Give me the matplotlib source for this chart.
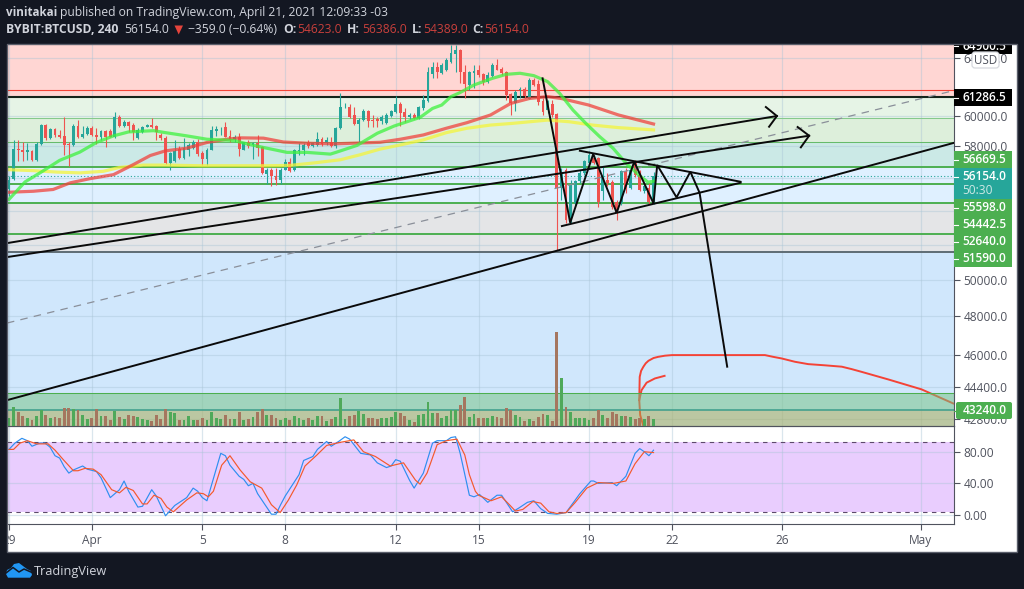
#btcusd 4h chart with hand drawn channels and stoch rsi pane

import matplotlib
matplotlib.use('Agg')
import matplotlib.pyplot as plt
from matplotlib.patches import Rectangle, FancyBboxPatch, Polygon
from matplotlib.ticker import NullLocator

plt.rcParams['font.family'] = ['Open Sans', 'DejaVu Sans']

W, H = 1024, 589

opens = [55330, 55940, 57850, 57745, 57620, 57680, 57110, 58170, 59400, 58540,
         59120, 58750, 58690, 58170, 58070, 59340, 58600, 58820, 59230, 58750,
         58600, 59030, 59030, 58640, 59950, 59340, 59620, 59400, 58540, 58970,
         59300, 59400, 59340, 58750, 58540, 56940, 57050, 57830, 57260, 57790,
         57890, 58320, 57570, 57190, 57790, 59030, 59120, 59300, 58690, 58470,
         58640, 57790, 58320, 58110, 58210, 57940, 56250, 56520, 56110, 55900,
         56520, 56980, 56480, 57680, 57790, 58210, 58040, 58110, 58470, 58210,
         58320, 58000, 59190, 60590, 60590, 60070, 59470, 59730, 60340, 59730,
         59780, 59690, 59560, 60000, 60290, 60810, 60290, 59910, 60070, 59840,
         60510, 61030, 62880, 63360, 62940, 63150, 63700, 64300, 64580, 63010,
         62100, 62940, 63150, 62870, 62340, 62730, 63480, 63240, 63010, 61500,
         60860, 61730, 61850, 61180, 62450, 62180, 61030, 60400, 60810, 60130,
         55390, 56520, 53440, 54440, 55800, 56320, 56940, 57260, 57260, 55180,
         55900, 55740, 54540, 54440, 56420, 55390, 57050, 56210, 55180, 55390,
         54623]
highs = [56107, 58428, 58428, 58320, 58214, 57787, 58320, 59470, 59470, 59190,
         59230, 59080, 59910, 58320, 59470, 59730, 59340, 59340, 59340, 59190,
         59080, 59080, 59120, 60290, 60070, 59730, 59690, 59560, 59190, 59340,
         59470, 59840, 59400, 58860, 58690, 57620, 58430, 58000, 58540, 58210,
         58430, 58470, 57680, 57890, 59340, 59340, 59300, 59600, 59080, 58750,
         58860, 58320, 58430, 58320, 58750, 58000, 56630, 56630, 56630, 56630,
         57190, 57260, 57830, 58210, 58210, 58430, 58320, 58970, 58600, 58600,
         58640, 59300, 61540, 60850, 60810, 60630, 59840, 60450, 60400, 60070,
         59950, 60070, 60180, 60400, 61330, 60970, 60510, 60180, 60180, 60670,
         61420, 63400, 63740, 63690, 63630, 63980, 64940, 64940, 64650, 63480,
         63080, 63480, 63480, 62970, 63010, 63630, 63910, 63360, 63080, 61540,
         61730, 61970, 61990, 62570, 62570, 62450, 61190, 61080, 61080, 60220,
         56630, 56630, 55900, 55900, 56520, 57150, 57680, 57470, 57320, 56730,
         56320, 55900, 54640, 56520, 56630, 56630, 57150, 56520, 55590, 55690,
         56386]
lows = [54880, 55900, 57045, 57045, 57150, 57045, 57045, 58100, 58430, 58470,
        58640, 58540, 57470, 56770, 58000, 58540, 58540, 58750, 58690, 58170,
        58430, 57950, 58600, 58540, 59300, 59300, 58970, 58430, 58470, 58900,
        59250, 59190, 58430, 58430, 56900, 56480, 56980, 57190, 57190, 57360,
        57830, 57360, 56830, 56830, 57745, 58690, 58750, 58600, 58260, 58320,
        57360, 57745, 57890, 57190, 57360, 56270, 55640, 55530, 55590, 55640,
        56480, 56360, 56420, 57470, 57470, 57890, 57950, 58000, 58040, 58110,
        57950, 57890, 59120, 60510, 59840, 59400, 58320, 59690, 59300, 59300,
        59300, 59470, 59470, 59950, 60220, 59340, 59620, 59780, 59780, 59780,
        60400, 60970, 62570, 62570, 62880, 63100, 63630, 63010, 62230, 61190,
        61760, 61880, 62690, 62100, 62270, 62690, 63150, 62810, 61080, 60070,
        60360, 61190, 61240, 61120, 62040, 60740, 60070, 60180, 59950, 51670,
        54640, 53250, 53250, 54340, 55690, 56210, 56830, 56900, 54240, 54640,
        55490, 54080, 53450, 54340, 55080, 55290, 56060, 55180, 55080, 54390,
        54389]
closes = [55900, 57850, 57745, 57660, 57745, 57110, 58170, 59400, 58540, 59120,
          58730, 58640, 58110, 58070, 59340, 58600, 58820, 59230, 58750, 58600,
          59030, 58640, 58640, 59950, 59340, 59620, 59340, 58950, 59080, 59300,
          59400, 59300, 58970, 58540, 56940, 57580, 57680, 57260, 57890, 58110,
          58320, 57530, 57190, 57790, 59080, 59120, 59165, 58640, 58390, 58600,
          57830, 58260, 58000, 58210, 57890, 56320, 56520, 56110, 55900, 56520,
          56980, 56420, 57790, 57790, 58110, 58000, 58210, 58470, 58170, 58430,
          58040, 59190, 60630, 60630, 59910, 59470, 59730, 60360, 59690, 59670,
          59690, 59950, 60070, 60310, 60810, 60180, 59910, 60070, 59840, 60630,
          61080, 62990, 63360, 63010, 63480, 63890, 64350, 64580, 63010, 62150,
          63010, 63080, 62800, 62340, 62800, 63480, 63170, 62930, 61440, 60860,
          61660, 61850, 61350, 62450, 62110, 60970, 60290, 60970, 60070, 55390,
          56320, 53440, 55590, 55800, 56320, 57050, 57470, 56940, 54540, 56110,
          55700, 54240, 53840, 56420, 55290, 56520, 56210, 55240, 55490, 54540,
          56154]
# volume read as bar height, arbitrary units
volumes = [25, 56, 41, 30, 23, 18, 30, 48, 33, 23, 26, 23, 53, 53, 50, 48, 33, 21, 24, 50,
           30, 30, 18, 45, 26, 21, 33, 31, 28, 20, 18, 16, 33, 20, 51, 41, 40, 18, 18, 30,
           18, 18, 23, 18, 42, 25, 21, 33, 20, 21, 42, 18, 21, 28, 42, 51, 33, 33, 23, 18,
           23, 18, 30, 23, 18, 23, 18, 30, 30, 16, 21, 28, 84, 22, 30, 33, 46, 36, 24, 24,
           21, 25, 23, 26, 42, 38, 30, 18, 13, 33, 36, 72, 40, 38, 25, 30, 48, 48, 63, 86,
           27, 36, 25, 25, 25, 30, 27, 25, 53, 48, 33, 26, 15, 21, 15, 27, 35, 33, 15, 282,
           144, 57, 41, 25, 25, 25, 18, 25, 48, 33, 25, 43, 35, 30, 30, 26, 21, 25, 21, 30,
           21]

ma_green_x = [0, 3.5, 7, 11, 15.4, 19, 22.7, 26, 31.4, 34, 38.6, 43, 48.8, 51.7, 56, 60.4, 64.7, 69.8,
              71, 75.6, 80, 83.7, 89.3, 92, 94, 96, 98, 101, 105, 108, 111, 114, 117, 119.6,
              122.5, 125.3, 128.3, 131.2, 134, 136.7, 138.8, 140]
ma_green_y = [54684, 55760, 56370, 57110, 57640, 58260, 58690, 58950, 59030, 58900, 58690, 58470, 58390, 58170,
              57890, 57620, 57620, 57510, 57620, 58070, 58860, 59340, 59910, 60510, 60740, 61310, 61590, 62110,
              62570, 62850, 62925, 62760, 62340, 61540, 60400, 59510, 58640, 57890, 56940, 56210, 55740, 55800]
ma_red_x = [0, 5.3, 9.6, 13.3, 17.6, 22.7, 27, 30.7, 34, 38.6, 43, 47.3, 50.2, 55.3, 59.6, 64.7, 70.5, 80.6,
            85, 90, 95, 99.5, 104.6, 109, 113, 117, 120, 125.9, 132.4, 140]
ma_red_y = [55120, 55180, 55290, 55700, 55960, 56210, 56840, 57420, 57720, 57890, 58260, 58470, 58560, 58540,
            58290, 58210, 58170, 58270, 58470, 58750, 59190, 59560, 60070, 60850, 61180, 61310, 61180, 60740,
            60070, 59470]
ma_yellow_x = [0, 5.3, 10.4, 15.4, 20.5, 24, 29.2, 34, 41.5, 48.8, 56, 61, 66, 72, 76.3, 80.6, 85, 90, 95,
               99.5, 104.6, 109.3, 117, 121.7, 126.7, 132.4, 140]
ma_yellow_y = [56520, 56460, 56370, 56320, 56420, 56660, 56810, 56810, 56770, 56770, 56770, 56790, 56940, 57150,
               57470, 57830, 58100, 58430, 58900, 59190, 59400, 59510, 59730, 59620, 59400, 59230, 59080]

stoch_k_x = [0, 1.3, 2.8, 4, 5, 6.7, 7.8, 8.9, 10, 11, 12, 13, 14, 16, 17, 19, 20, 22, 23, 24, 25, 26, 28, 29,
             31, 32, 34, 36, 38.6, 40, 41, 42, 43, 46, 47, 48, 50, 51, 52, 53, 54, 57, 58, 59, 60, 62, 63, 64,
             66, 67, 69, 70, 71.6, 73, 74, 76.4, 78.5, 80, 82, 83, 84, 85, 87, 88, 90, 92, 93, 95, 96, 97, 98,
             100, 101, 102.2, 104, 106, 107, 109.4, 110.8, 112.6, 114, 115.5, 117, 119, 121, 122.5, 124, 126.4,
             127, 128, 131, 132, 134, 136, 137, 138, 139, 140]
stoch_k_y = [83, 91, 97, 94, 87, 91, 91, 86, 75, 72, 61, 53, 57, 62, 58, 55, 47, 22, 27, 32, 43, 30, 10, 11,
             32, 24, -1, 12, 22, 34, 30, 22, 18, 78, 75, 63, 49, 45, 37, 40, 27, 1, 1, 13, 24, 42, 51, 69,
             74, 83, 93, 87, 93, 99, 96, 78, 76, 66, 60, 62, 70, 68, 44, 34, 53, 91, 94, 94, 98, 99, 78,
             25, 23, 26, 16, 25, 25, 4, 9, 16, 18, 8, 2, 1, 3, 15, 27, 43,
             43, 40, 41, 37, 49, 78, 84, 80, 75, 82]
stoch_d_x = [0, 1, 2.4, 4, 6, 8.5, 10, 11.8, 14, 15, 16.5, 18.3, 20, 22.3, 24, 25.4, 27, 29, 30, 31.5, 33, 34.3,
             35.7, 38.6, 40.8, 42.2, 43.3, 44.4, 46.2, 48, 50.2, 52.4, 54.9, 57, 58.9, 60.7, 62.5, 64.3, 66.9,
             69, 72, 74.9, 77, 79.6, 82.8, 85.7, 88.3, 89.3, 90.8, 93, 95, 97.3, 99, 100, 101.3, 102, 104.7,
             107, 108.7, 110, 111.6, 113.8, 115.5, 117.3, 119, 121, 123, 125.5, 128, 131.3, 134, 136, 138, 140]
stoch_d_y = [83, 83, 91, 94, 90, 90, 82, 70, 56, 56, 59, 58, 51, 32, 28, 35, 31, 14, 14, 25, 21, 10,
             4, 19, 28, 27, 23, 30, 63, 75, 57, 42, 34, 13, 3, 19, 38, 62, 76,
             88, 92, 95, 80, 74, 62, 66, 44, 39, 53, 89, 94, 96, 76, 51, 30, 25, 18,
             23, 13, 5, 7, 17, 15, 4, 2, 3, 16, 34, 41, 40, 43, 65, 80, 79]

# horizontal levels and the colored zones between them
zone_edges = [64937, 61286.5, 59870, 58260, 56669.5, 54442.5, 51590, 42490]
zone_colors = ['#FFD6D3', '#E6F4E6', '#DDEFDB', '#CBE9E6', '#DFF0FF', '#E4E5E7', '#D0E7FC']
level_red = 61764
level_black = 61286.5
levels_thin = [59870, 58260, 44070]
levels_thick = [56669.5, 55598, 54442.5, 52640]
level_grey = 51590
level_teal = 43240
last_price = 56154
overlay_edges = [44070, 43240, 42490]
overlay_colors = ['#74C380', '#A8A94A']

# hand drawn stuff, (bar, price)
channel_a_x, channel_a_y = [-0.43, 166.8], [52083, 60000]
head_a_x, head_a_y = [164.4, 166.8, 165.1], [60604, 60000, 59290]
channel_b_x, channel_b_y = [-0.43, 173.8], [51280, 58700]
head_b_x, head_b_y = [171.3, 173.8, 172], [59270, 58700, 57945]
channel_c_x, channel_c_y = [-0.43, 205.1], [43730, 58223]
dashed_x, dashed_y = [-0.43, 205.1], [47650, 61714]
tri_up_x, tri_up_y = [124, 158.9], [57725, 55767]
tri_low_x, tri_low_y = [120.1, 158.9], [53083, 55705]
zig_x = [115.9, 121.9, 126.9, 132, 135.8, 140, 140.8, 145, 148, 150, 156]
zig_y = [62572, 53280, 57514, 53875, 57023, 54441, 56814, 54807, 56391, 55088, 45390]
curve_x = [137.8, 137.1, 136.9, 137, 137.3, 137.8, 138.3, 138.9, 140, 141, 142.5, 144, 164.2, 166, 167.8, 170.7,
           173.6, 177.2, 180.9, 183, 185.2, 191, 198.2, 205.1]
curve_y = [42486, 43010, 43730, 44880, 45180, 45390, 45560, 45690, 45830, 45890, 45950, 45980, 45980, 45890, 45810,
           45640, 45520, 45460, 45390, 45270, 45130, 44750, 44260, 43570]
curve2_x = [136.9, 137.4, 138.5, 140.3, 142.4]
curve2_y = [43730, 44220, 44590, 44800, 44930]

# 56000, 54000 and 52000 sit behind the level labels, the chart shows no text for them
price_ticks = [64000, 60000, 58000, 56000, 54000, 52000, 50000, 48000, 46000, 44400, 42800]
price_hidden = [56000, 54000, 52000]
time_ticks = [0, 18, 42, 60, 84, 102, 126, 144, 168, 198]
time_labels = ['29', 'Apr', '5', '8', '12', '15', '19', '22', '26', 'May']
stoch_ticks = [80, 40, 0]
stoch_upper, stoch_lower = 92.8, 4.4

GREEN, RED = '#26A69A', '#EF5350'
AXIS = '#50535E'
GRID = '#A9C4D6'


def px_axes(fig, x0, y0, x1, y1, **kw):
    return fig.add_axes([x0 / W, 1 - y1 / H, (x1 - x0) / W, (y1 - y0) / H], **kw)


def draw_price(ax):
    for i, col in enumerate(zone_colors):
        ax.axhspan(zone_edges[i + 1], zone_edges[i], color=col, lw=0, zorder=1)
    ax.set_yscale('log')
    ax.set_xlim(-0.43, 205.2)
    ax.set_ylim(42490, 64937)

    # the drawn curve sits under the two bottom zones
    ax.plot(curve_x, curve_y, color='#F44336', lw=1.4, zorder=1.8)
    ax.plot(curve2_x, curve2_y, color='#F44336', lw=1.4, zorder=1.8)
    for i, col in enumerate(overlay_colors):
        ax.axhspan(overlay_edges[i + 1], overlay_edges[i], color=col, alpha=0.5, lw=0, zorder=2)

    ax.axhline(level_red, color='#F44336', lw=0.8, zorder=2.5)
    ax.axhline(level_black, color='#14241A', lw=1.5, zorder=2.5)
    ax.axhline(levels_thin[0], color='#85C98B', lw=0.75, zorder=2.5)
    ax.axhline(levels_thin[1], color='#66BB6A', lw=0.75, zorder=2.5)
    ax.axhline(levels_thin[2], color='#4CAF50', lw=0.75, zorder=2.5)
    for lev in levels_thick:
        ax.axhline(lev, color='#4CAF50', lw=1.4, zorder=2.5)
    ax.axhline(level_grey, color='#5E6C74', lw=1.4, zorder=2.5)
    ax.axhline(level_teal, color='#3B9C8B', lw=1.1, zorder=2.5)
    ax.axhline(last_price, color=GREEN, lw=0.8, ls=(0, (1, 2)), zorder=2.5)

    # candles
    bars = range(len(opens))
    up = [c >= o for o, c in zip(opens, closes)]
    cols = [GREEN if u else RED for u in up]
    ax.vlines(bars, lows, highs, colors=cols, lw=0.8, zorder=3)
    ax.bar(bars, [abs(c - o) for o, c in zip(opens, closes)], bottom=[min(o, c) for o, c in zip(opens, closes)],
           width=0.62, color=cols, lw=0, zorder=3)

    ax.plot(ma_yellow_x, ma_yellow_y, color='#F5F53A', lw=2.3, alpha=0.75, zorder=4)
    ax.plot(ma_red_x, ma_red_y, color='#F0423C', lw=2.3, alpha=0.75, zorder=4)
    ax.plot(ma_green_x, ma_green_y, color='#3DF23D', lw=2.3, alpha=0.75, zorder=4)

    ax.plot(dashed_x, dashed_y, color='#8A8F99', lw=0.9, ls=(0, (6, 5)), zorder=4.5)
    for xs, ys in [(channel_a_x, channel_a_y), (head_a_x, head_a_y), (channel_b_x, channel_b_y),
                   (head_b_x, head_b_y), (channel_c_x, channel_c_y), (tri_up_x, tri_up_y),
                   (tri_low_x, tri_low_y), (zig_x, zig_y)]:
        ax.plot(xs, ys, color='#0A0A0A', lw=1.4, zorder=5, solid_joinstyle='miter')

    ax.yaxis.tick_right()
    ax.set_yticks(price_ticks, ['' if v in price_hidden else f'{v:.1f}' for v in price_ticks])
    ax.yaxis.set_minor_locator(NullLocator())
    ax.set_xticks(time_ticks)
    ax.tick_params(axis='x', length=0, labelbottom=False)
    ax.tick_params(axis='y', length=4, color=AXIS, labelcolor=AXIS, labelsize=8.6, pad=3)
    ax.grid(True, color=GRID, alpha=0.42, lw=0.9)
    ax.set_axisbelow('line')
    for s in ['top', 'left']:
        ax.spines[s].set_visible(False)
    for s in ['right', 'bottom']:
        ax.spines[s].set_color(AXIS)


def draw_volume(ax):
    cols = ['#4FA95A' if c >= o else '#A5765F' for o, c in zip(opens, closes)]
    ax.bar(range(len(volumes)), volumes, width=0.62, color=cols, lw=0)
    ax.set_xlim(-0.43, 205.2)
    ax.set_ylim(0, 1143)
    ax.axis('off')


def draw_stoch(ax):
    ax.axhspan(stoch_lower, stoch_upper, color='#E9CDFE', lw=0, zorder=1)
    ax.plot(stoch_k_x, stoch_k_y, color='#2E8FF0', lw=0.85, zorder=3)
    ax.plot(stoch_d_x, stoch_d_y, color='#F4592C', lw=0.85, zorder=3.1)
    ax.axhline(stoch_upper, color='#5D4A6B', lw=0.8, ls=(0, (4, 4)), zorder=2)
    ax.axhline(stoch_lower, color='#5D4A6B', lw=0.8, ls=(0, (4, 4)), zorder=2)
    ax.set_xlim(-0.43, 205.2)
    ax.set_ylim(-11.4, 112.6)
    ax.yaxis.tick_right()
    ax.set_yticks(stoch_ticks, [f'{v:.2f}' for v in stoch_ticks])
    ax.set_xticks(time_ticks, time_labels)
    ax.tick_params(axis='y', length=4, color=AXIS, labelcolor=AXIS, labelsize=8.6, pad=3)
    ax.tick_params(axis='x', length=4, color=AXIS, labelcolor=AXIS, labelsize=8.6, pad=3)
    ax.grid(True, color=GRID, alpha=0.42, lw=0.9)
    ax.set_axisbelow('line')
    for s in ['left']:
        ax.spines[s].set_visible(False)
    for s in ['right', 'bottom', 'top']:
        ax.spines[s].set_color(AXIS)


def draw_chrome(ax):
    dark = '#131722'
    ax.set_xlim(0, W)
    ax.set_ylim(H, 0)
    ax.axis('off')

    # price labels on the right, their spots are nudged by tradingview so not on the level
    boxes = [(954, 36, 17.7, '#000000', '64900.5', 46.0),
             (954, 89.3, 16.4, '#000000', '61286.5', 97.7),
             (954, 151, 16.7, '#4CAF50', '56669.5', 159.5),
             (954, 199, 17, '#4CAF50', '55598.0', 207.5),
             (954, 216, 17, '#4CAF50', '54442.5', 224.7),
             (954, 233, 17, '#4CAF50', '52640.0', 241.7),
             (954, 250, 16.7, '#4CAF50', '51590.0', 258.7)]
    for x, y, h, col, txt, ty in boxes:
        ax.add_patch(Rectangle((x, y), 58, h, fc=col, ec='none', zorder=2))
        ax.plot([954, 958], [ty, ty], color='white', lw=0.8, zorder=2.2)
        ax.text(962.7, ty, txt, color='white', fontsize=8.6, fontweight='semibold', va='center', ha='left', zorder=2.3)
    ax.add_patch(Rectangle((954, 167.7), 58, 31.3, fc='#26A69A', ec='none', zorder=2))
    ax.plot([954, 958], [176.7, 176.7], color='white', lw=0.8, zorder=2.2)
    ax.text(962.7, 176.7, '56154.0', color='white', fontsize=8.6, fontweight='semibold', va='center', zorder=2.3)
    ax.text(962.7, 190.5, '50:30', color='#CFE9E6', fontsize=8.6, va='center', zorder=2.3)
    ax.add_patch(FancyBboxPatch((956, 402), 56, 17, boxstyle='round,pad=0,rounding_size=2', fc='#4CAF50', ec='none', zorder=2))
    ax.plot([954, 958], [410.5, 410.5], color='#4CAF50', lw=0.8, zorder=2.2)
    ax.text(962.7, 410.5, '43240.0', color='white', fontsize=8.6, fontweight='semibold', va='center', zorder=2.3)
    ax.add_patch(FancyBboxPatch((972, 52), 27, 16, boxstyle='round,pad=0,rounding_size=3', fc='white', ec='#D6D8DE', lw=0.9, zorder=2.4))
    ax.text(985.5, 60, 'USD', color=AXIS, fontsize=8.4, va='center', ha='center', zorder=2.5)

    # dark frame round the chart
    for x, y, w, h in [(0, 0, W, 43.5), (0, 551.7, W, H - 551.7), (0, 0, 6.7, H), (1017, 0, W - 1017, H)]:
        ax.add_patch(Rectangle((x, y), w, h, fc=dark, ec='none', zorder=3))
    ax.add_patch(Rectangle((6.7, 43.5), 1010.3, 508.2, fc='none', ec='#5A5E6A', lw=1, zorder=3.1))

    lt = '#D1D4DC'
    txt_red = '#C9403C'
    y1, y2 = 12.5, 29.5
    ax.text(6, y1, 'vinitakai', color=lt, fontsize=8.4, fontweight='bold', va='center', zorder=4)
    ax.text(60, y1, 'published on TradingView.com, April 21, 2021 12:09:33 -03', color=lt, fontsize=8.7, va='center', zorder=4)
    ax.text(6, y2, 'BYBIT:BTCUSD, 240', color=lt, fontsize=8.7, fontweight='bold', va='center', zorder=4)
    ax.text(124.3, y2, '56154.0', color=lt, fontsize=8.7, va='center', zorder=4)
    ax.add_patch(Polygon([[174.5, 25.5], [183, 25.5], [178.7, 34.5]], fc='#E5443C', ec='none', zorder=4))
    ax.text(187.7, y2, '\u2212359.0 (\u22120.64%)', color=lt, fontsize=8.7, va='center', zorder=4)
    for lx, lab, vx, val in [(283.3, 'O:', 297.3, '54623.0'), (347, 'H:', 361.7, '56386.0'),
                             (411.7, 'L:', 422.7, '54389.0'), (472.7, 'C:', 484, '56154.0')]:
        ax.text(lx, y2, lab, color=lt, fontsize=8.7, fontweight='bold', va='center', zorder=4)
        ax.text(vx, y2, val, color=txt_red, fontsize=8.7, va='center', zorder=4)

    # logo
    cloud = [[6, 574], [7, 570], [11, 568], [14, 564], [19, 563], [23, 566], [27, 569], [31, 571], [32, 575], [30, 577.7], [8, 577.7]]
    ax.add_patch(Polygon(cloud, fc='#2196F3', ec='none', zorder=4))
    ax.plot([6, 13, 19, 24, 32], [573, 567.5, 572, 569, 572.5], color=dark, lw=1.1, zorder=4.1)
    ax.text(34, 571, 'TradingView', color=lt, fontsize=9.2, va='center', zorder=4)


def main():
    fig = plt.figure(figsize=(W / 100, H / 100), dpi=100, facecolor='#131722')

    panel = px_axes(fig, 6.7, 43.5, 1017, 551.7, zorder=0)
    panel.set_facecolor('white')
    panel.set_xticks([])
    panel.set_yticks([])
    for s in panel.spines.values():
        s.set_visible(False)

    ax_price = px_axes(fig, 7, 45, 953.7, 426, zorder=1)
    ax_price.patch.set_alpha(0)
    ax_vol = px_axes(fig, 7, 45, 953.7, 426, zorder=2)
    ax_vol.patch.set_alpha(0)
    ax_stoch = px_axes(fig, 7, 426, 953.7, 524, zorder=1)
    ax_stoch.patch.set_alpha(0)
    ax_top = px_axes(fig, 0, 0, W, H, zorder=5)
    ax_top.patch.set_alpha(0)

    draw_price(ax_price)
    draw_volume(ax_vol)
    draw_stoch(ax_stoch)
    draw_chrome(ax_top)

    fig.savefig('out.png', dpi=100, facecolor=fig.get_facecolor())


if __name__ == '__main__':
    main()
